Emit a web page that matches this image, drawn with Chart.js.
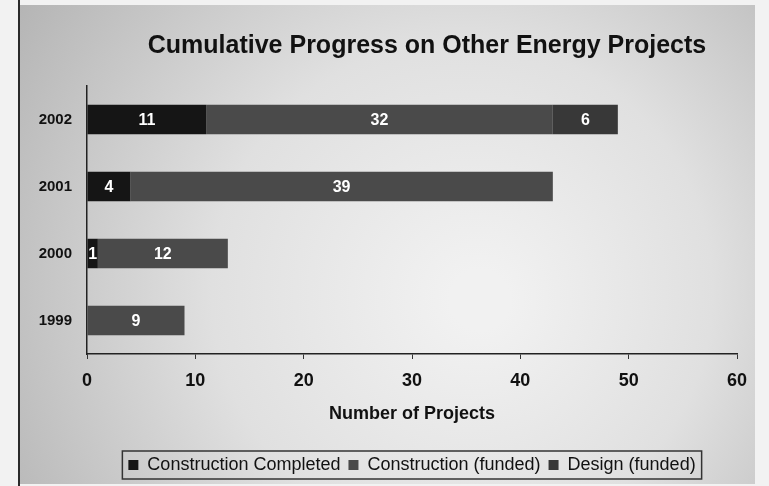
<!DOCTYPE html>
<html>
<head>
<meta charset="utf-8">
<script src="https://cdn.jsdelivr.net/npm/chart.js@4.4.0/dist/chart.umd.min.js"></script>
<style>
html, body { margin: 0; padding: 0; background: #fff; }
#wrap { width: 769px; height: 486px; position: relative; }
</style>
</head>
<body>
<div id="wrap"><canvas id="grafico" width="769" height="486"></canvas></div>
<script>
// dados
const years = ['2002', '2001', '2000', '1999'];
const constructionCompleted = [11, 4, 1, 0];
const constructionFunded = [32, 39, 12, 9];
const designFunded = [6, 0, 0, 0];
const seriesNames = ['Construction Completed', 'Construction (funded)', 'Design (funded)'];
const chartTitle = 'Cumulative Progress on Other Energy Projects';
const xMin = 0, xMax = 60, xStep = 10;

const FONT = '"Liberation Sans", Arial, Helvetica, sans-serif';
Chart.defaults.font.family = FONT;
Chart.defaults.color = '#111';

// fundo cinza com moldura, imitando o papel escaneado
const fundo = {
    id: 'fundo',
    beforeDraw(chart) {
        const ctx = chart.ctx;
        ctx.save();
        ctx.fillStyle = '#f2f2f2';
        ctx.fillRect(0, 0, chart.width, chart.height);
        const g = ctx.createRadialGradient(480, 300, 30, 440, 280, 520);
        g.addColorStop(0, '#f1f1f1');
        g.addColorStop(0.45, '#e0e0e0');
        g.addColorStop(1, '#b2b2b2');
        ctx.fillStyle = g;
        ctx.fillRect(19, 5, 736, 479);
        ctx.strokeStyle = '#2a2a2a';
        ctx.lineWidth = 2;
        ctx.beginPath();
        ctx.moveTo(19, 0);
        ctx.lineTo(19, chart.height);
        ctx.stroke();
        ctx.restore();
    }
};

// título um pouco à direita do centro, como no original
const titulo = {
    id: 'titulo',
    afterDraw(chart) {
        const ctx = chart.ctx;
        const area = chart.chartArea;
        ctx.save();
        ctx.font = 'bold 25px ' + FONT;
        ctx.fillStyle = '#111';
        ctx.textAlign = 'center';
        ctx.textBaseline = 'middle';
        ctx.fillText(chartTitle, (area.left + area.right) / 2 + 15, 46);
        ctx.restore();
    }
};

// números brancos dentro de cada segmento
const rotulos = {
    id: 'rotulos',
    afterDatasetsDraw(chart) {
        const ctx = chart.ctx;
        ctx.save();
        ctx.font = 'bold 16px ' + FONT;
        ctx.fillStyle = '#fff';
        ctx.textAlign = 'center';
        ctx.textBaseline = 'middle';
        chart.data.datasets.forEach((ds, i) => {
            chart.getDatasetMeta(i).data.forEach((bar, j) => {
                const v = ds.data[j];
                if (!v) return;
                ctx.fillText(String(v), (bar.x + bar.base) / 2, bar.y + 1);
            });
        });
        ctx.restore();
    }
};

// caixa em volta da legenda
const caixaLegenda = {
    id: 'caixaLegenda',
    afterDraw(chart) {
        const boxes = chart.legend && chart.legend.legendHitBoxes;
        if (!boxes || !boxes.length) return;
        const left = Math.min(...boxes.map(b => b.left)) - 6;
        const right = Math.max(...boxes.map(b => b.left + b.width)) + 6;
        const top = Math.min(...boxes.map(b => b.top)) - 5;
        const bottom = Math.max(...boxes.map(b => b.top + b.height)) + 5;
        const ctx = chart.ctx;
        ctx.save();
        ctx.strokeStyle = '#333';
        ctx.lineWidth = 1.5;
        ctx.strokeRect(left, top, right - left, bottom - top);
        ctx.restore();
    }
};

new Chart(document.getElementById('grafico'), {
    type: 'bar',
    data: {
        labels: years,
        datasets: [
            { label: seriesNames[0], data: constructionCompleted, backgroundColor: '#151515' },
            { label: seriesNames[1], data: constructionFunded, backgroundColor: '#4a4a4a' },
            { label: seriesNames[2], data: designFunded, backgroundColor: '#383838' }
        ]
    },
    options: {
        indexAxis: 'y',
        responsive: false,
        animation: false,
        categoryPercentage: 1,
        barPercentage: 0.44,
        layout: { padding: { left: 18, right: 32, top: 86, bottom: 2 } },
        plugins: {
            title: { display: false },
            legend: {
                position: 'bottom',
                fullSize: false,
                labels: {
                    boxWidth: 10,
                    boxHeight: 10,
                    padding: 8,
                    font: { size: 18 },
                    color: '#111'
                }
            },
            tooltip: { enabled: false }
        },
        scales: {
            x: {
                stacked: true,
                min: xMin,
                max: xMax,
                ticks: { stepSize: xStep, font: { size: 18, weight: 'bold' }, color: '#111', padding: 11 },
                grid: { drawOnChartArea: false, tickLength: 5, color: '#333' },
                border: { color: '#222', width: 1.5 },
                title: {
                    display: true,
                    text: 'Number of Projects',
                    font: { size: 18, weight: 'bold' },
                    color: '#111',
                    padding: { top: 0, bottom: 23 }
                },
                afterFit(scale) { scale.height = 94; }
            },
            y: {
                stacked: true,
                ticks: { font: { size: 15, weight: 'bold' }, color: '#111', padding: 15 },
                grid: { display: false, drawTicks: false },
                border: { color: '#222', width: 1.5 },
                afterFit(scale) { scale.width = 69; }
            }
        }
    },
    plugins: [fundo, titulo, rotulos, caixaLegenda]
});
</script>
</body>
</html>
